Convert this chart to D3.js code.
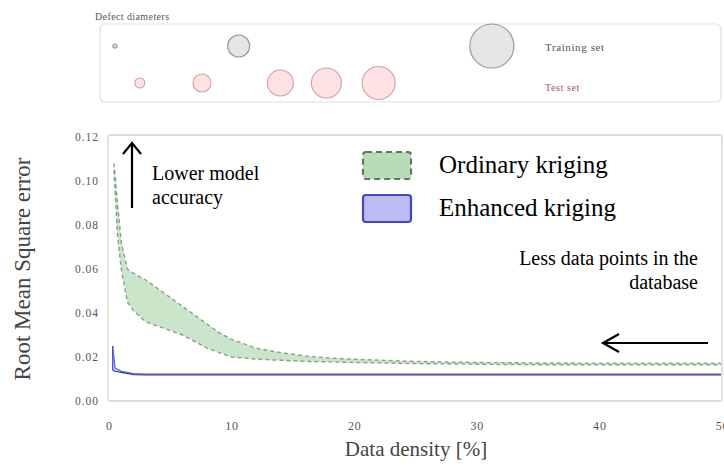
<!DOCTYPE html>
<html><head><meta charset="utf-8">
<script src="https://cdn.jsdelivr.net/npm/d3@7"></script>
<style>html,body{margin:0;padding:0;background:#fff;}svg{display:block;}</style>
</head><body>
<script>
// ---- data ----
const trainingDiameters = [0.2, 1.1, 2.2];
const trainingPositions = [2.4, 22.3, 63];
const testDiameters = [0.5, 0.9, 1.3, 1.5, 1.65];
const testPositions = [6.4, 16.4, 29.0, 36.4, 44.8];

const xTicks = [0, 10, 20, 30, 40, 50];
const yTicks = [0, 0.02, 0.04, 0.06, 0.08, 0.10, 0.12];

const okDensity = [0.4, 0.7, 1.0, 1.5, 2, 3, 4, 5, 6, 7, 8, 9, 10, 12, 14, 16, 18, 20, 25, 30, 35, 40, 45, 50];
const okUpper   = [0.108, 0.090, 0.072, 0.060, 0.058, 0.055, 0.051, 0.047, 0.043, 0.039, 0.035, 0.031, 0.028, 0.024, 0.022, 0.0205, 0.0195, 0.019, 0.018, 0.0175, 0.0173, 0.0172, 0.0172, 0.0172];
const okLower   = [0.105, 0.075, 0.060, 0.045, 0.041, 0.036, 0.034, 0.032, 0.030, 0.027, 0.024, 0.022, 0.020, 0.019, 0.0185, 0.018, 0.0178, 0.0175, 0.017, 0.0167, 0.0165, 0.0165, 0.0165, 0.0165];

const ekDensity = [0.3, 0.5, 1.0, 2, 3, 5, 10, 20, 30, 40, 50];
const ekUpper   = [0.025, 0.015, 0.0135, 0.0125, 0.0122, 0.0122, 0.0122, 0.0122, 0.0122, 0.0122, 0.0122];
const ekLower   = [0.014, 0.0135, 0.013, 0.012, 0.0118, 0.0118, 0.0118, 0.0118, 0.0118, 0.0118, 0.0118];

const W = 724, H = 468;
const svg = d3.select("body").append("svg").attr("width", W).attr("height", H);
const serif = "'Liberation Serif', 'Times New Roman', serif";

// ---- defect diameters box ----
svg.append("text").attr("x", 95).attr("y", 20).text("Defect diameters")
  .attr("font-family", serif).attr("font-size", 10).attr("fill", "#555").attr("letter-spacing", 0.4);
svg.append("rect").attr("x", 100).attr("y", 24).attr("width", 621).attr("height", 78)
  .attr("rx", 5).attr("fill", "#fff").attr("stroke", "#e0e0e0").attr("stroke-width", 1.2);

const posScale = d3.scaleLinear().domain([0, 100]).range([100, 722]);
const rScale = d3.scaleLinear().domain([0, 2.2]).range([0, 22]);
const rowScale = d3.scaleBand().domain(["train", "test"]).range([24, 104]);

svg.append("g").selectAll("circle").data(trainingDiameters).join("circle")
  .attr("cx", (d, i) => posScale(trainingPositions[i]))
  .attr("cy", rowScale("train") + rowScale.bandwidth() / 2 + 2)
  .attr("r", d => rScale(d))
  .attr("fill", "#e5e5e5").attr("stroke", "#999").attr("stroke-width", 1.2);
svg.append("g").selectAll("circle").data(testDiameters).join("circle")
  .attr("cx", (d, i) => posScale(testPositions[i]))
  .attr("cy", rowScale("test") + rowScale.bandwidth() / 2 - 1)
  .attr("r", d => rScale(d))
  .attr("fill", "#fde3e3").attr("stroke", "#d99aa5").attr("stroke-width", 1.1);
svg.append("text").attr("x", 545).attr("y", 51).text("Training set")
  .attr("font-family", serif).attr("font-size", 11).attr("fill", "#555").attr("letter-spacing", 0.6);
svg.append("text").attr("x", 545).attr("y", 91).text("Test set")
  .attr("font-family", serif).attr("font-size", 10).attr("fill", "#b04a68").attr("letter-spacing", 0.6);

// ---- main chart ----
const m = {l: 109, r: 722, t: 137, b: 401};
const x = d3.scaleLinear().domain([0, 50]).range([m.l, m.r]);
const y = d3.scaleLinear().domain([0, 0.12]).range([m.b, m.t]);

svg.append("rect").attr("x", m.l - 1).attr("y", m.t - 2).attr("width", m.r - m.l + 1).attr("height", m.b - m.t + 2)
  .attr("rx", 3).attr("fill", "#fff").attr("stroke", "#d4d4d4").attr("stroke-width", 1.3);

const clip = svg.append("clipPath").attr("id", "clip").append("rect")
  .attr("x", m.l).attr("y", m.t - 2).attr("width", m.r - m.l - 1).attr("height", m.b - m.t + 1);
const plot = svg.append("g").attr("clip-path", "url(#clip)");

const okData = okDensity.map((d, i) => ({x: d, lo: okLower[i], hi: okUpper[i]}));
const ekData = ekDensity.map((d, i) => ({x: d, lo: ekLower[i], hi: ekUpper[i]}));

const area = d3.area().x(d => x(d.x)).y0(d => y(d.lo)).y1(d => y(d.hi)).curve(d3.curveLinear);
const lineHi = d3.line().x(d => x(d.x)).y(d => y(d.hi));
const lineLo = d3.line().x(d => x(d.x)).y(d => y(d.lo));

plot.append("path").datum(okData).attr("d", area).attr("fill", "#a6d4a6").attr("fill-opacity", 0.6);
plot.append("path").datum(okData).attr("d", lineHi).attr("fill", "none").attr("stroke", "#6f8f6f")
  .attr("stroke-width", 1.4).attr("stroke-dasharray", "4,3").attr("stroke-opacity", 0.8);
plot.append("path").datum(okData).attr("d", lineLo).attr("fill", "none").attr("stroke", "#6f8f6f")
  .attr("stroke-width", 1.4).attr("stroke-dasharray", "4,3").attr("stroke-opacity", 0.8);

plot.append("path").datum(ekData).attr("d", area).attr("fill", "#b4b4f0").attr("fill-opacity", 0.7);
plot.append("path").datum(ekData).attr("d", lineHi).attr("fill", "none").attr("stroke", "#5858d0").attr("stroke-width", 1.1);
plot.append("path").datum(ekData).attr("d", lineLo).attr("fill", "none").attr("stroke", "#3a3a9a").attr("stroke-width", 1.1);
plot.append("line").attr("x1", x(ekDensity[0])).attr("x2", x(ekDensity[0]))
  .attr("y1", y(ekUpper[0])).attr("y2", y(ekLower[0])).attr("stroke", "#4848c8").attr("stroke-width", 1.2);

// axes
const xAxis = svg.append("g").attr("transform", `translate(0,${m.b})`)
  .call(d3.axisBottom(x).tickValues(xTicks).tickSize(0).tickPadding(20).tickFormat(d3.format("d")));
xAxis.select(".domain").remove();
xAxis.selectAll("text").attr("font-family", serif).attr("font-size", 12).attr("fill", "#555").attr("letter-spacing", 0.8);

const yAxis = svg.append("g").attr("transform", `translate(${m.l},0)`)
  .call(d3.axisLeft(y).tickValues(yTicks).tickSize(0).tickPadding(10).tickFormat(d3.format(".2f")));
yAxis.select(".domain").remove();
yAxis.selectAll("text").attr("font-family", serif).attr("font-size", 11.5).attr("fill", "#555").attr("letter-spacing", 1);

svg.append("text").attr("x", 416).attr("y", 456).attr("text-anchor", "middle")
  .text("Data density [%]").attr("font-family", serif).attr("font-size", 21).attr("fill", "#444");
svg.append("text").attr("transform", `translate(30,${(m.t + m.b) / 2}) rotate(-90)`).attr("text-anchor", "middle")
  .text("Root Mean Square error").attr("font-family", serif).attr("font-size", 23).attr("fill", "#444");

// legend
const legend = [
  {label: "Ordinary kriging", fill: "#b8dcb8", stroke: "#5a7a5a", dash: "6,4"},
  {label: "Enhanced kriging", fill: "#bcbcf2", stroke: "#4444c8", dash: null}
];
const lg = svg.append("g").selectAll("g").data(legend).join("g")
  .attr("transform", (d, i) => `translate(363,${152 + i * 43})`);
lg.append("rect").attr("width", 48).attr("height", 27).attr("rx", 3)
  .attr("fill", d => d.fill).attr("stroke", d => d.stroke).attr("stroke-width", 2.2)
  .attr("stroke-dasharray", d => d.dash);
lg.append("text").attr("x", 76).attr("y", 21).text(d => d.label)
  .attr("font-family", serif).attr("font-size", 25).attr("fill", "#000");

// annotations
const ann = svg.append("g").attr("font-family", serif).attr("font-size", 20).attr("fill", "#000");
ann.append("text").attr("x", 152).attr("y", 180).text("Lower model");
ann.append("text").attr("x", 152).attr("y", 204).text("accuracy");
ann.append("text").attr("x", 698).attr("y", 265).attr("text-anchor", "end").text("Less data points in the");
ann.append("text").attr("x", 698).attr("y", 289).attr("text-anchor", "end").text("database");

const arr = svg.append("g").attr("stroke", "#000").attr("stroke-width", 2.2).attr("fill", "none");
arr.append("line").attr("x1", 132).attr("y1", 208).attr("x2", 132).attr("y2", 143);
arr.append("path").attr("d", "M123,154 L132,143 L141,154");
arr.append("line").attr("x1", 708).attr("y1", 343).attr("x2", 603).attr("y2", 343);
arr.append("path").attr("d", "M619,334 L603,343 L619,352");
</script>
</body></html>
